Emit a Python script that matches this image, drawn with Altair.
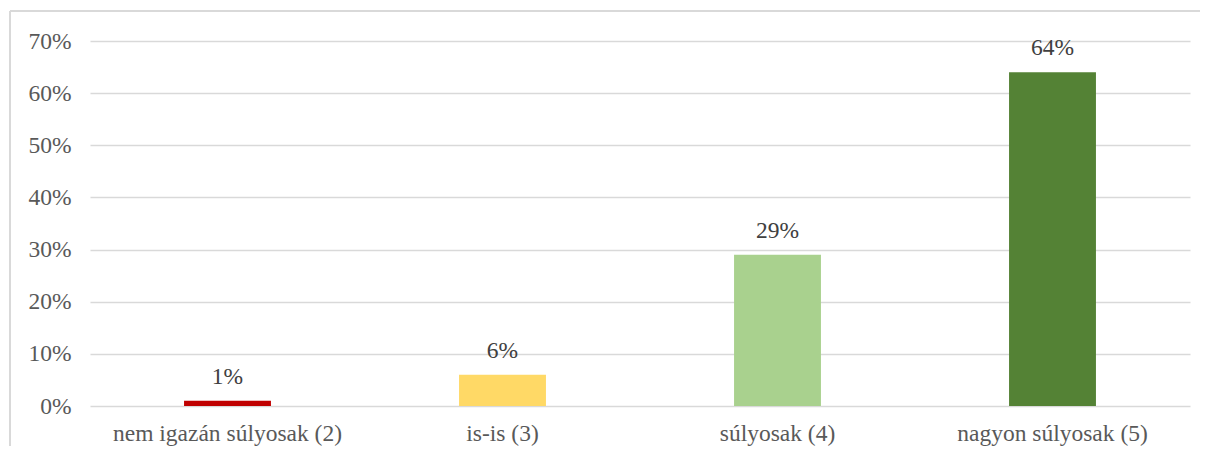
import altair as alt
import pandas as pd

categories = ["nem igazán súlyosak (2)", "is-is (3)", "súlyosak (4)", "nagyon súlyosak (5)"]
values = [0.01, 0.06, 0.29, 0.64]
labels = ["1%", "6%", "29%", "64%"]
colors = ["#C00000", "#FFD966", "#A9D18E", "#548235"]

df = pd.DataFrame({"cat": categories, "val": values, "lab": labels, "col": colors})

FONT = "Liberation Serif"
TXT = "#595959"
FS = 23.5

x = alt.X("cat:N", sort=categories, title=None,
          scale=alt.Scale(paddingInner=0.684, paddingOuter=0.342),
          axis=alt.Axis(labelAngle=0, labelFont=FONT, labelFontSize=FS, labelColor=TXT,
                        labelLimit=0, ticks=False, domain=False, labelPadding=15))
y = alt.Y("val:Q", title=None,
          scale=alt.Scale(domain=[0, 0.7], nice=False),
          axis=alt.Axis(format=".0%", values=[0, 0.1, 0.2, 0.3, 0.4, 0.5, 0.6, 0.7],
                        labelFont=FONT, labelFontSize=FS, labelColor=TXT,
                        ticks=False, domain=False, labelPadding=19,
                        gridColor="#D9D9D9", gridWidth=1.5))

bars = alt.Chart(df).mark_bar().encode(
    x=x, y=y, color=alt.Color("col:N", scale=None)
)
text = alt.Chart(df).mark_text(font=FONT, fontSize=FS, color="#404040", baseline="alphabetic", dy=-17).encode(
    x=alt.X("cat:N", sort=categories), y="val:Q", text="lab:N"
)
border_top = alt.Chart(df).mark_rule(color="#D9D9D9", strokeWidth=1.5).encode(
    x=alt.value(-80), x2=alt.value(1110), y=alt.value(-30)
)
border_left = alt.Chart(df).mark_rule(color="#D9D9D9", strokeWidth=1.5).encode(
    x=alt.value(-80), y=alt.value(-30), y2=alt.value(405)
)

chart = alt.layer(border_top, border_left, bars, text).properties(
    width=1100, height=365,
    background="white",
    autosize=alt.AutoSizeParams(type="none"),
    padding={"left": 82, "top": 33, "right": 10, "bottom": 40},
).configure_view(strokeWidth=0, stroke="transparent")

chart.save("out.html", embed_options={"renderer": "svg", "actions": False})
